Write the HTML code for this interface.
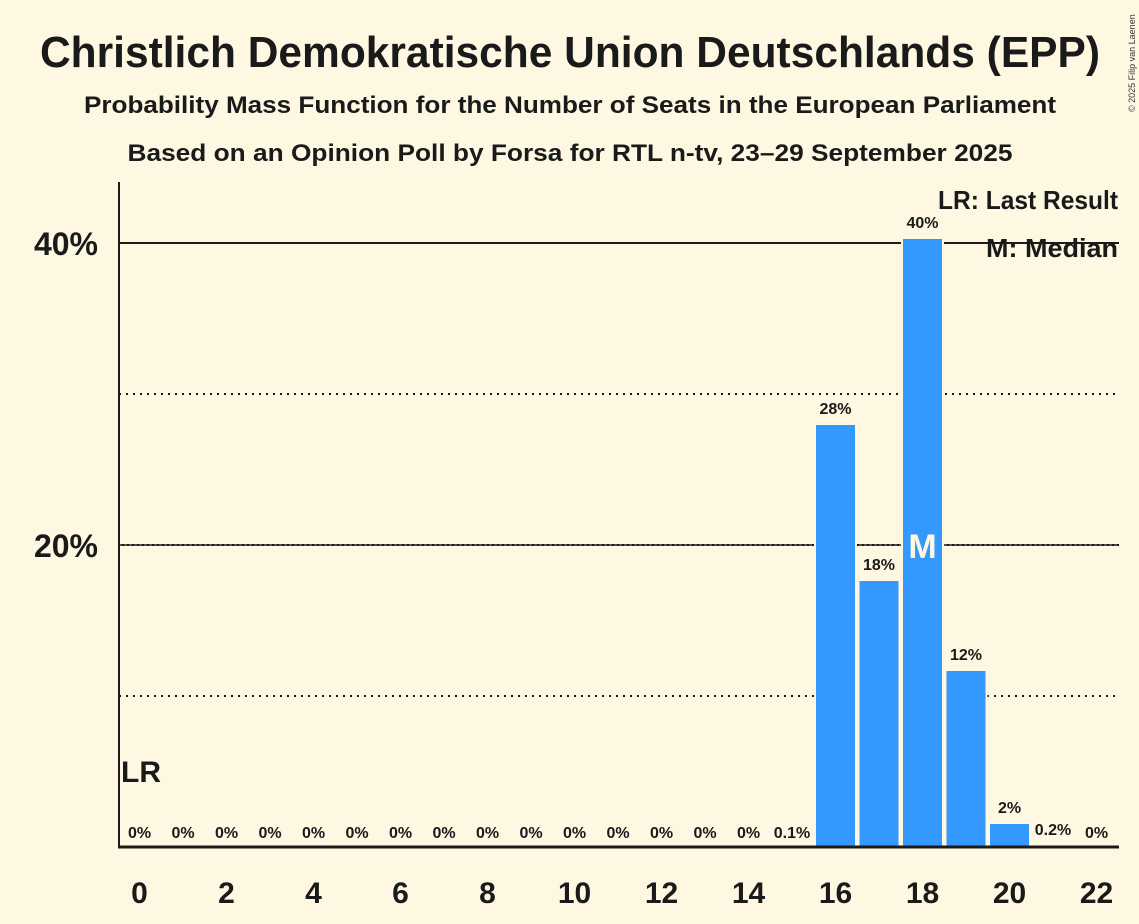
<!DOCTYPE html>
<html><head><meta charset="utf-8"><style>
html,body{margin:0;padding:0;background:#fef8e3;}
svg{display:block;font-family:"Liberation Sans",sans-serif;font-weight:bold;}
</style></head><body>
<svg width="1139" height="924" viewBox="0 0 1139 924" xmlns="http://www.w3.org/2000/svg">
<rect width="1139" height="924" fill="#fef8e3"/>
<text x="570" y="67" font-size="44" text-anchor="middle" textLength="1060" lengthAdjust="spacingAndGlyphs" fill="#1a1a1a">Christlich Demokratische Union Deutschlands (EPP)</text>
<text x="570" y="113" font-size="24" text-anchor="middle" textLength="972" lengthAdjust="spacingAndGlyphs" fill="#1a1a1a">Probability Mass Function for the Number of Seats in the European Parliament</text>
<text x="570" y="161" font-size="24" text-anchor="middle" textLength="885" lengthAdjust="spacingAndGlyphs" fill="#1a1a1a">Based on an Opinion Poll by Forsa for RTL n-tv, 23–29 September 2025</text>
<text x="1135" y="112" font-size="9" font-weight="normal" fill="#333" transform="rotate(-90 1135 112)">© 2025 Filip van Laenen</text>
<line x1="119" y1="394" x2="1119" y2="394" stroke="#1a1a1a" stroke-width="2" stroke-dasharray="2,5"/>
<line x1="119" y1="696" x2="1119" y2="696" stroke="#1a1a1a" stroke-width="2" stroke-dasharray="2,5"/>
<line x1="119" y1="545" x2="1119" y2="545" stroke="#1a1a1a" stroke-width="2"/>
<line x1="119" y1="545" x2="1119" y2="545" stroke="#888" stroke-width="1" stroke-dasharray="3,2"/>
<line x1="119" y1="243" x2="1119" y2="243" stroke="#1a1a1a" stroke-width="2"/>
<g fill="#3399ff" stroke="#fef8e3" stroke-width="2">
<rect x="815" y="424" width="41" height="423"/>
<rect x="858.5" y="580" width="41" height="267"/>
<rect x="902" y="238" width="41" height="609"/>
<rect x="945.5" y="670" width="41" height="177"/>
<rect x="989" y="823" width="41" height="24"/>
<rect x="1032.5" y="845" width="41" height="2"/>
</g>
<text x="922.5" y="558" font-size="34" fill="#fef8e3" text-anchor="middle">M</text>
<line x1="119" y1="182" x2="119" y2="848" stroke="#1a1a1a" stroke-width="2"/>
<line x1="118" y1="847" x2="1119" y2="847" stroke="#1a1a1a" stroke-width="3"/>
<g font-size="32" text-anchor="end" fill="#1a1a1a">
<text x="98" y="255">40%</text>
<text x="98" y="557">20%</text>
</g>
<g font-size="30" text-anchor="middle" fill="#1a1a1a">
<text x="139.5" y="903">0</text><text x="226.5" y="903">2</text><text x="313.5" y="903">4</text><text x="400.5" y="903">6</text><text x="487.5" y="903">8</text><text x="574.5" y="903">10</text><text x="661.5" y="903">12</text><text x="748.5" y="903">14</text><text x="835.5" y="903">16</text><text x="922.5" y="903">18</text><text x="1009.5" y="903">20</text><text x="1096.5" y="903">22</text>
</g>
<g font-size="16" text-anchor="middle" fill="#1a1a1a">
<text x="139.5" y="838">0%</text><text x="183" y="838">0%</text><text x="226.5" y="838">0%</text><text x="270" y="838">0%</text><text x="313.5" y="838">0%</text><text x="357" y="838">0%</text><text x="400.5" y="838">0%</text><text x="444" y="838">0%</text><text x="487.5" y="838">0%</text><text x="531" y="838">0%</text><text x="574.5" y="838">0%</text><text x="618" y="838">0%</text><text x="661.5" y="838">0%</text><text x="705" y="838">0%</text><text x="748.5" y="838">0%</text><text x="792" y="838">0.1%</text>
<text x="835.5" y="414">28%</text><text x="879" y="570">18%</text><text x="922.5" y="228">40%</text><text x="966" y="660">12%</text><text x="1009.5" y="813">2%</text><text x="1053" y="835">0.2%</text><text x="1096.5" y="838">0%</text>
</g>
<text x="121" y="782" font-size="30" fill="#1a1a1a">LR</text>
<g font-size="26" text-anchor="end" fill="#1a1a1a">
<text x="1118" y="209" textLength="180" lengthAdjust="spacingAndGlyphs">LR: Last Result</text>
<text x="1118" y="257" textLength="132" lengthAdjust="spacingAndGlyphs">M: Median</text>
</g>
</svg>
</body></html>
